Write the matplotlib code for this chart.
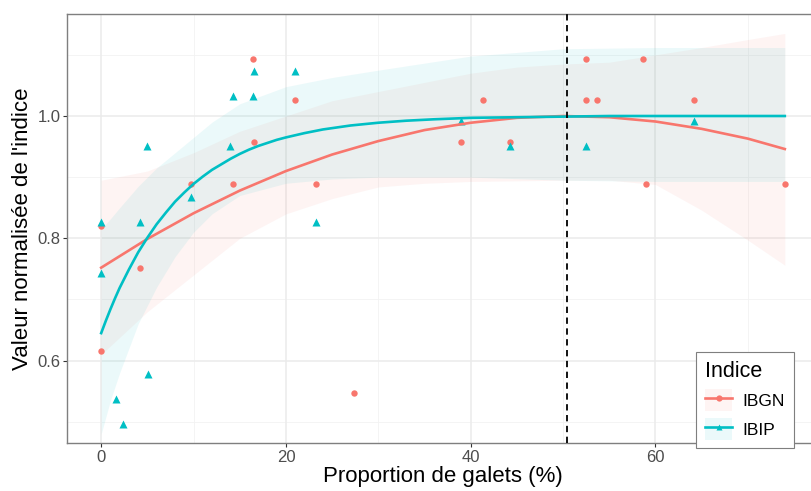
import matplotlib
matplotlib.use("Agg")
import matplotlib.pyplot as plt
from matplotlib.lines import Line2D
from matplotlib.patches import Patch

plt.rcParams['font.family'] = ['Liberation Sans', 'DejaVu Sans']

# ---- data ----
series = ["IBGN", "IBIP"]
colors = {"IBGN": "#F8766D", "IBIP": "#00BFC4"}

ibgn_x = [0, 0, 4.2, 9.7, 14.3, 16.4, 16.5, 21.0, 23.3, 27.4, 39.0, 41.3, 44.3,
          52.45, 52.5, 53.7, 58.7, 59.0, 64.2, 74.0]
ibgn_y = [0.8205, 0.6154, 0.7521, 0.8889, 0.8889, 1.0940, 0.9573, 1.0256, 0.8889,
          0.5470, 0.9573, 1.0256, 0.9573, 1.0940, 1.0256, 1.0256, 1.0940, 0.8889,
          1.0256, 0.8889]

ibip_x = [0, 0, 1.6, 2.4, 4.2, 5.0, 5.1, 9.7, 13.9, 14.3, 16.4, 16.5, 21.0, 23.3,
          39.0, 44.3, 52.45, 64.2]
ibip_y = [0.8264, 0.7438, 0.5372, 0.4959, 0.8264, 0.9504, 0.5785, 0.8678, 0.9504,
          1.0331, 1.0331, 1.0744, 1.0744, 0.8264, 0.9917, 0.9504, 0.9504, 0.9917]

# fitted curves and confidence bands
ibgn_fit_x = [0, 5, 10, 15, 20, 25, 30, 35, 40, 45, 50, 55, 60, 65, 70, 74]
ibgn_fit_y = [0.752, 0.799, 0.841, 0.878, 0.910, 0.937, 0.959, 0.977, 0.989, 0.997,
              1.000, 0.998, 0.991, 0.979, 0.963, 0.946]
ibgn_lo = [0.61, 0.68, 0.74, 0.80, 0.84, 0.865, 0.884, 0.890, 0.893, 0.894, 0.895,
           0.895, 0.888, 0.846, 0.797, 0.756]
ibgn_hi = [0.895, 0.91, 0.94, 0.975, 1.0, 1.025, 1.04, 1.055, 1.07, 1.08, 1.085,
           1.088, 1.10, 1.112, 1.125, 1.135]

ibip_fit_x = [0, 0.5, 1, 1.5, 2, 3, 4, 5, 6, 7, 8, 9, 10, 11, 12, 13, 14, 15, 16,
              17, 18, 19, 20, 22, 24, 27, 30, 33, 36, 40, 45, 50, 55, 60, 65, 70, 74]
ibip_fit_y = [0.645, 0.665, 0.684, 0.702, 0.719, 0.749, 0.777, 0.801, 0.823, 0.842,
              0.860, 0.875, 0.889, 0.901, 0.912, 0.921, 0.930, 0.938, 0.945, 0.951,
              0.956, 0.961, 0.965, 0.972, 0.978, 0.9845, 0.989, 0.9923, 0.9946,
              0.997, 0.998, 0.999, 1.0, 1.0, 1.0, 1.0, 1.0]
ibip_band_x = [0, 1, 2, 4, 6, 8, 10, 12, 15, 20, 25, 30, 40, 50, 60, 74]
ibip_lo = [0.48, 0.535, 0.58, 0.66, 0.72, 0.77, 0.81, 0.84, 0.87, 0.89, 0.897, 0.90,
           0.90, 0.895, 0.893, 0.893]
ibip_hi = [0.815, 0.832, 0.85, 0.885, 0.915, 0.94, 0.965, 0.99, 1.02, 1.048, 1.063,
           1.075, 1.098, 1.11, 1.112, 1.112]

threshold = 50.4

xticks = [0, 20, 40, 60]
yticks = [0.6, 0.8, 1.0]

# ---- figure ----
W, H = 812, 491
fig = plt.figure(figsize=(W / 100, H / 100), dpi=100)
left, right, top, bottom = 67, 819, 14, 443
ax = fig.add_axes([left / W, 1 - bottom / H, (right - left) / W, (bottom - top) / H])

ax.set_xlim(-3.7, 77.7)
ax.set_ylim(0.4653, 1.1668)

# grid
for v in [10, 30, 50, 70]:
    ax.axvline(v, color="#F2F2F2", lw=0.6, zorder=0)
for v in [0.5, 0.7, 0.9, 1.1]:
    ax.axhline(v, color="#F2F2F2", lw=0.6, zorder=0)
for v in xticks:
    ax.axvline(v, color="#EBEBEB", lw=1.1, zorder=0)
for v in yticks:
    ax.axhline(v, color="#EBEBEB", lw=1.1, zorder=0)

# ribbons
ax.fill_between(ibgn_fit_x, ibgn_lo, ibgn_hi, color=colors["IBGN"], alpha=0.08,
                lw=0, zorder=1)
ax.fill_between(ibip_band_x, ibip_lo, ibip_hi, color=colors["IBIP"], alpha=0.08,
                lw=0, zorder=1)

# points
ax.plot(ibgn_x, ibgn_y, 'o', color=colors["IBGN"], ms=4.6, mec='none', zorder=3)
ax.plot(ibip_x, ibip_y, '^', color=colors["IBIP"], ms=5.6, mec='none', zorder=3)

# lines
ax.plot(ibgn_fit_x, ibgn_fit_y, color=colors["IBGN"], lw=1.9, zorder=4,
        solid_joinstyle='round')
ax.plot(ibip_fit_x, ibip_fit_y, color=colors["IBIP"], lw=1.9, zorder=4,
        solid_joinstyle='round')

ax.axvline(threshold, color="black", lw=1.3, ls=(0, (3.5, 2.5)), zorder=5)

# axes style
ax.set_xticks(xticks)
ax.set_xticklabels([str(v) for v in xticks])
ax.set_yticks(yticks)
ax.set_yticklabels(["0.6", "0.8", "1.0"])
ax.tick_params(axis='both', length=3, width=0.8, color="#333333",
               labelcolor="#4D4D4D", labelsize=12, pad=1.8)
for s in ax.spines.values():
    s.set_color("#7F7F7F")
    s.set_linewidth(1.0)

ax.set_xlabel("Proportion de galets (%)", fontsize=16, color="black", labelpad=1)
ax.set_ylabel("Valeur normalisée de l'indice", fontsize=16, color="black", labelpad=3)

# legend
handles = []
for s_, mk in zip(series, ['o', '^']):
    patch = Patch(facecolor=colors[s_], alpha=0.08, edgecolor='none')
    line = Line2D([], [], color=colors[s_], lw=1.9, marker=mk, ms=4.5, mec='none')
    handles.append((patch, line))
leg = fig.legend(handles, series, title="Indice", loc='upper left',
                 bbox_to_anchor=(696 / W, 1 - 352 / H), bbox_transform=fig.transFigure,
                 borderaxespad=0, frameon=True, fancybox=False, framealpha=1,
                 edgecolor="#7F7F7F", fontsize=12.5, title_fontsize=15.5,
                 handlelength=1.6, handleheight=1.5, labelspacing=0.45,
                 borderpad=0.5, handletextpad=0.6)
leg._legend_box.align = "left"
leg.get_frame().set_linewidth(0.8)

fig.savefig("out.png", dpi=100)
